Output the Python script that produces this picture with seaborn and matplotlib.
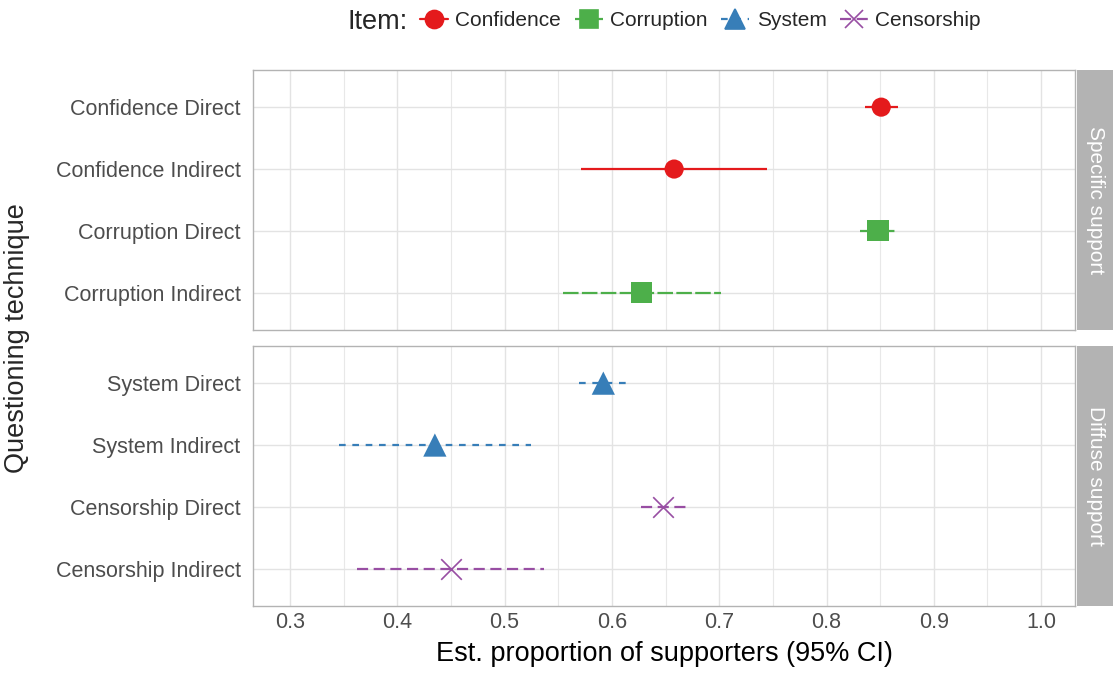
import matplotlib
matplotlib.use("Agg")
import matplotlib.pyplot as plt
import seaborn as sns
import pandas as pd
from matplotlib.lines import Line2D
from matplotlib.patches import Rectangle
from matplotlib.ticker import MultipleLocator

# ---- data ----
labels = ["Confidence Direct", "Confidence Indirect", "Corruption Direct", "Corruption Indirect",
          "System Direct", "System Indirect", "Censorship Direct", "Censorship Indirect"]
items = ["Confidence", "Confidence", "Corruption", "Corruption",
         "System", "System", "Censorship", "Censorship"]
groups = ["Specific support"] * 4 + ["Diffuse support"] * 4
estimate = [0.851, 0.658, 0.848, 0.628, 0.592, 0.435, 0.648, 0.450]
lower = [0.836, 0.571, 0.831, 0.554, 0.569, 0.346, 0.627, 0.362]
upper = [0.867, 0.745, 0.865, 0.702, 0.614, 0.525, 0.670, 0.537]
item_order = ["Confidence", "Corruption", "System", "Censorship"]
panel_order = ["Specific support", "Diffuse support"]

df = pd.DataFrame({"label": labels, "item": items, "group": groups,
                   "est": estimate, "lo": lower, "hi": upper})

colors = {"Confidence": "#E41A1C", "Corruption": "#4DAF4A",
          "System": "#377EB8", "Censorship": "#984EA3"}
markers = {"Confidence": "o", "Corruption": "s", "System": "^", "Censorship": "x"}
msizes = {"Confidence": 190, "Corruption": 230, "System": 280, "Censorship": 220}
lstyles = {"Confidence": "-", "Corruption": (0, (7, 1.5)),
           "System": (0, (3, 3)), "Censorship": (0, (5, 2.5))}

sns.set_theme(style="whitegrid")
plt.rcParams["font.family"] = ["Liberation Sans", "DejaVu Sans"]

fig = plt.figure(figsize=(11.13, 6.78), dpi=100)
L, R = 253 / 1113, 1075 / 1113
W = 678
axes = [fig.add_axes([L, 1 - 330 / W, R - L, 260 / W]),
        fig.add_axes([L, 1 - 606 / W, R - L, 260 / W])]

for ax, grp in zip(axes, panel_order):
    sub = df[df.group == grp].reset_index(drop=True)
    order = list(sub.label)
    sub["y"] = range(len(sub))
    for _, r in sub.iterrows():
        ax.hlines(r.y, r.lo, r.hi, color=colors[r["item"]], linestyle=lstyles[r["item"]],
                  linewidth=1.6, zorder=2)
    for it in item_order:
        s = sub[sub["item"] == it]
        if len(s) == 0:
            continue
        sns.scatterplot(data=s, x="est", y="y", ax=ax, color=colors[it], marker=markers[it],
                        s=msizes[it], linewidth=1.2 if it == "Censorship" else 0,
                        edgecolor=colors[it] if it == "Censorship" else "none",
                        zorder=3, legend=False)
    ax.set_yticks(range(len(order)))
    ax.set_yticklabels(order)
    ax.set_ylim(len(order) - 1 + 0.6, -0.6)
    ax.set_xlim(0.2655, 1.0316)
    ax.xaxis.set_major_locator(MultipleLocator(0.1))
    ax.xaxis.set_minor_locator(MultipleLocator(0.05))
    ax.grid(True, which="major", color="#e3e3e3", linewidth=1.0)
    ax.grid(True, which="minor", axis="x", color="#e8e8e8", linewidth=0.8)
    ax.set_axisbelow(True)
    for sp in ax.spines.values():
        sp.set_color("#b3b3b3")
        sp.set_linewidth(1.0)
    ax.tick_params(axis="both", labelsize=15.5, colors="#4d4d4d", length=0, pad=4)
    ax.tick_params(axis="y", pad=9)
    ax.set_xlabel("")
    ax.set_ylabel("")
    # strip
    pos = ax.get_position()
    fig.patches.append(Rectangle((1077 / 1113, pos.y0), 36 / 1113, pos.height,
                                 transform=fig.transFigure, facecolor="#b3b3b3",
                                 edgecolor="none"))
    fig.text((1077 + 18) / 1113, pos.y0 + pos.height / 2, grp, rotation=-90,
             ha="center", va="center", color="white", fontsize=15)

axes[0].tick_params(axis="x", labelbottom=False)
axes[1].set_xticklabels([f"{v:.1f}" for v in axes[1].get_xticks()])
axes[1].set_xlabel("Est. proportion of supporters (95% CI)", fontsize=19.5, color="black", labelpad=6)
fig.text(17 / 1113, 0.5 * ((1 - 70 / W) + (1 - 606 / W)), "Questioning technique",
         rotation=90, ha="center", va="center", fontsize=19.5)

handles = [Line2D([0], [0], color=colors[it], linestyle=lstyles[it], linewidth=1.6,
                  marker=markers[it], markersize=13 if it != "System" else 14,
                  markeredgewidth=1.2, markeredgecolor=colors[it])
           for it in item_order]
fig.text(348 / 1113, 1 - 22 / W, "Item:", ha="left", va="center", fontsize=19.5)
fig.legend(handles, item_order, loc="center left", bbox_to_anchor=(420 / 1113, 1 - 21 / W),
           ncol=4, frameon=False, fontsize=15, handlelength=1.35, handletextpad=0.35,
           columnspacing=0.65, borderaxespad=0, borderpad=0)

fig.savefig("out.png", dpi=100)
